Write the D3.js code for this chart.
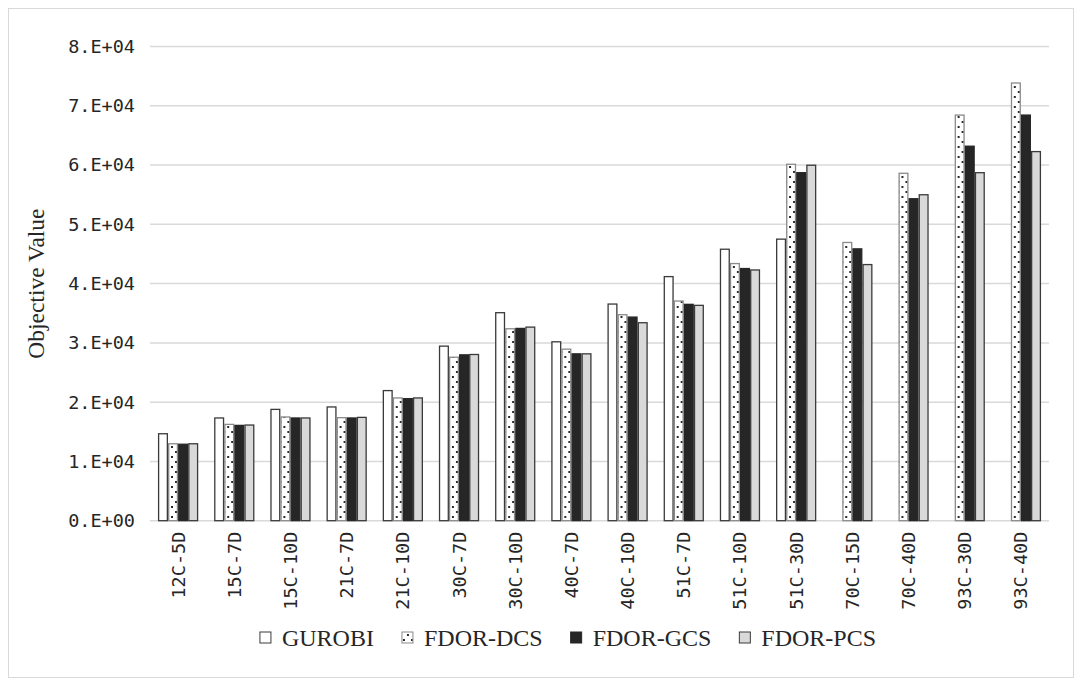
<!DOCTYPE html>
<html>
<head>
<meta charset="utf-8">
<script src="https://cdn.jsdelivr.net/npm/d3@7"></script>
<style>
  body { margin: 0; background: #fff; }
  svg { display: block; }
</style>
</head>
<body>
<div id="chart"></div>
<script>
// instances on the x axis
const categories = ["12C-5D", "15C-7D", "15C-10D", "21C-7D", "21C-10D", "30C-7D", "30C-10D", "40C-7D",
                    "40C-10D", "51C-7D", "51C-10D", "51C-30D", "70C-15D", "70C-40D", "93C-30D", "93C-40D"];
const seriesNames = ["GUROBI", "FDOR-DCS", "FDOR-GCS", "FDOR-PCS"];

// objective values (null = no bar)
const gurobi  = [14670, 17330, 18780, 19190, 21950, 29450, 35090, 30180, 36550, 41180, 45800, 47500, null, null, null, null];
const fdorDcs = [12980, 16250, 17500, 17380, 20710, 27580, 32380, 28940, 34750, 37060, 43380, 60130, 46940, 58610, 68430, 73840];
const fdorGcs = [12900, 16080, 17330, 17330, 20590, 27980, 32440, 28150, 34350, 36500, 42540, 58710, 45860, 54320, 63180, 68430];
const fdorPcs = [12980, 16140, 17330, 17430, 20710, 28040, 32660, 28150, 33400, 36330, 42300, 59970, 43210, 54990, 58710, 62270];

const yTicks = [0, 10000, 20000, 30000, 40000, 50000, 60000, 70000, 80000];

const seriesValues = [gurobi, fdorDcs, fdorGcs, fdorPcs];

const W = 1075, H = 681;
const plot = { left: 150, right: 1049, top: 46.5, bottom: 520.7 };

const svg = d3.select("#chart").append("svg")
    .attr("width", W)
    .attr("height", H);

// dotted fill for FDOR-DCS
const defs = svg.append("defs");
const pat = defs.append("pattern")
    .attr("id", "dots")
    .attr("patternUnits", "userSpaceOnUse")
    .attr("width", 8)
    .attr("height", 10);
pat.append("rect").attr("width", 8).attr("height", 10).attr("fill", "#fff");
pat.append("rect").attr("x", 1).attr("y", 1).attr("width", 2).attr("height", 2).attr("fill", "#2a2a2a");
pat.append("rect").attr("x", 5).attr("y", 6).attr("width", 2).attr("height", 2).attr("fill", "#2a2a2a");

const styles = {
    "GUROBI":   { fill: "#ffffff", stroke: "#3a3a3a" },
    "FDOR-DCS": { fill: "url(#dots)", stroke: "#8a8a8a" },
    "FDOR-GCS": { fill: "#262626", stroke: "#262626" },
    "FDOR-PCS": { fill: "#d9d9d9", stroke: "#3a3a3a" }
};

// chart border
svg.append("rect")
    .attr("x", 8.5).attr("y", 8.5)
    .attr("width", W - 10).attr("height", H - 12)
    .attr("fill", "none")
    .attr("stroke", "#d9d9d9")
    .attr("stroke-width", 1);

// scales
const x0 = d3.scaleBand().domain(categories).range([plot.left, plot.right]);
const x1 = d3.scaleBand().domain(seriesNames)
    .range([8.6, x0.bandwidth() - 8.6])
    .paddingInner(0.13);
const y = d3.scaleLinear().domain([0, 80000]).range([plot.bottom, plot.top]);

// gridlines
svg.append("g")
    .selectAll("line")
    .data(yTicks)
    .join("line")
    .attr("x1", plot.left).attr("x2", plot.right)
    .attr("y1", d => y(d)).attr("y2", d => y(d))
    .attr("stroke", "#d9d9d9")
    .attr("stroke-width", 1.5);

// y axis
const yAxis = svg.append("g")
    .attr("transform", `translate(${plot.left},0)`)
    .call(d3.axisLeft(y).tickValues(yTicks).tickSize(0).tickPadding(15)
        .tickFormat(d => d === 0 ? "0.E+00" : `${d / 10000}.E+04`));
yAxis.select(".domain").remove();
yAxis.selectAll("text")
    .attr("font-family", "'DejaVu Sans Mono', monospace")
    .attr("font-size", "18.5px")
    .attr("fill", "#262626");

// bars
const groups = svg.append("g")
    .selectAll("g")
    .data(categories.map((c, i) => ({ cat: c, vals: seriesNames.map((s, j) => ({ s, v: seriesValues[j][i] })) })))
    .join("g")
    .attr("transform", d => `translate(${x0(d.cat)},0)`);

groups.selectAll("rect")
    .data(d => d.vals.filter(e => e.v != null))
    .join("rect")
    .attr("x", d => x1(d.s))
    .attr("y", d => y(d.v))
    .attr("width", x1.bandwidth())
    .attr("height", d => y(0) - y(d.v))
    .attr("fill", d => styles[d.s].fill)
    .attr("stroke", d => styles[d.s].stroke)
    .attr("stroke-width", 1.3);

// x axis labels
const xAxis = svg.append("g")
    .attr("transform", `translate(0,${plot.bottom})`)
    .call(d3.axisBottom(x0).tickSize(0).tickPadding(11));
xAxis.select(".domain").remove();
xAxis.selectAll("text")
    .attr("font-family", "'DejaVu Sans Mono', monospace")
    .attr("font-size", "18.5px")
    .attr("fill", "#262626")
    .attr("text-anchor", "end")
    .attr("dy", "0.35em")
    .attr("transform", "rotate(-90) translate(-11,-11)");

// y axis title
svg.append("text")
    .attr("transform", `translate(36,${(plot.top + plot.bottom) / 2}) rotate(-90)`)
    .attr("text-anchor", "middle")
    .attr("dy", "0.35em")
    .attr("font-family", "'Liberation Serif', 'Times New Roman', serif")
    .attr("font-size", "23.5px")
    .attr("fill", "#262626")
    .text("Objective Value");

// legend
const legend = svg.append("g");
let lx = 0;
seriesNames.forEach(s => {
    const g = legend.append("g");
    g.append("rect")
        .attr("x", 0).attr("y", -6)
        .attr("width", 11).attr("height", 11)
        .attr("fill", styles[s].fill)
        .attr("stroke", styles[s].stroke)
        .attr("stroke-width", 1);
    const t = g.append("text")
        .attr("x", 22).attr("dy", "0.35em")
        .attr("font-family", "'Liberation Serif', 'Times New Roman', serif")
        .attr("font-size", "24px")
        .attr("fill", "#262626")
        .text(s);
    const w = t.node().getComputedTextLength();
    g.attr("transform", `translate(${lx},0)`);
    lx += 22 + w + 28;
});
const total = lx - 28;
legend.attr("transform", `translate(${568 - total / 2},638)`);
</script>
</body>
</html>
